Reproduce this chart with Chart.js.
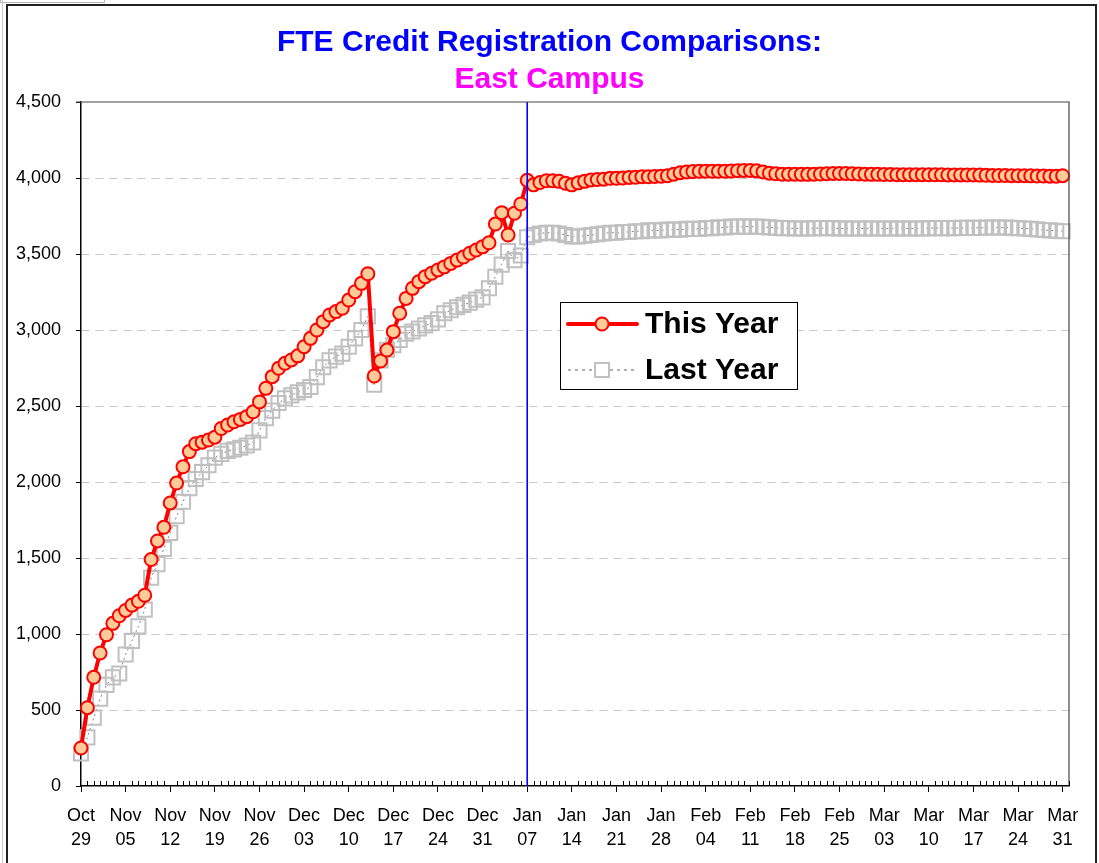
<!DOCTYPE html>
<html lang="en">
<head>
    <meta charset="utf-8" />
    <title>FTE Credit Registration Comparisons</title>
    <script src="https://cdn.jsdelivr.net/npm/chart.js@4.4.0/dist/chart.umd.min.js"></script>
    <style>
        body {
            margin: 0;
            background: #fff;
        }

        #wrap {
            position: relative;
            width: 1099px;
            height: 863px;
            overflow: hidden;
        }

        #frame {
            position: absolute;
            left: 6px;
            top: 4px;
            width: 1087px;
            height: 900px;
            border: 2px solid #222;
            pointer-events: none;
        }

        #cell {
            position: absolute;
            left: 0;
            top: 0;
            width: 103px;
            height: 2px;
            border: 1px solid #bbb;
            border-top: none;
        }

        #gutter {
            position: absolute;
            left: 2px;
            top: 0;
            width: 1px;
            height: 863px;
            background: #ccc;
        }
    </style>
</head>
<body>
    <div id="wrap">
        <canvas id="chart" width="1099" height="863"></canvas>
        <div id="gutter"></div>
        <div id="cell"></div>
        <div id="frame"></div>
    </div>

    <script>
        // one label per week, Oct 29 .. Mar 31
        var weekLabels = [
            ["Oct", "29"], ["Nov", "05"], ["Nov", "12"], ["Nov", "19"], ["Nov", "26"],
            ["Dec", "03"], ["Dec", "10"], ["Dec", "17"], ["Dec", "24"], ["Dec", "31"],
            ["Jan", "07"], ["Jan", "14"], ["Jan", "21"], ["Jan", "28"], ["Feb", "04"],
            ["Feb", "11"], ["Feb", "18"], ["Feb", "25"], ["Mar", "03"], ["Mar", "10"],
            ["Mar", "17"], ["Mar", "24"], ["Mar", "31"]
        ];

        // daily FTE values, day 0 = Oct 29
        var thisYear = [
            250, 515, 715, 875, 995, 1070, 1120, 1155, 1190, 1215,
            1255, 1490, 1612, 1702, 1862, 1993, 2100, 2200, 2252, 2262,
            2276, 2295, 2352, 2375, 2396, 2412, 2430, 2462, 2527, 2616,
            2693, 2748, 2781, 2803, 2830, 2890, 2945, 3000, 3055, 3099,
            3121, 3143, 3197, 3252, 3307, 3370, 2697, 2796, 2868, 2989,
            3110, 3208, 3274, 3318, 3351, 3373, 3395, 3415, 3438, 3460,
            3480, 3505, 3526, 3547, 3574, 3697, 3772, 3625, 3768, 3829,
            3985, 3955, 3970, 3982, 3982, 3978, 3965, 3955, 3968, 3978,
            3987, 3990, 3992, 3998, 3998, 4000, 4004, 4005, 4009, 4008,
            4010, 4012, 4015, 4025, 4035, 4040, 4042, 4044, 4045, 4045,
            4044, 4045, 4046, 4048, 4050, 4050, 4047, 4040, 4032, 4028,
            4025, 4025, 4025, 4024, 4024, 4025, 4026, 4028, 4030, 4030,
            4030, 4028, 4026, 4025, 4024, 4024, 4023, 4023, 4022, 4022,
            4022, 4022, 4022, 4021, 4021, 4021, 4020, 4020, 4020, 4020,
            4020, 4019, 4018, 4017, 4016, 4016, 4015, 4015, 4015, 4014,
            4013, 4013, 4012, 4012, 4015
        ];

        var lastYear = [
            215, 320, 450, 575, 665, 715, 740, 865, 955, 1050,
            1160, 1370, 1460, 1560, 1665, 1775, 1870, 1960, 2020, 2065,
            2110, 2160, 2185, 2205, 2215, 2225, 2240, 2260, 2340, 2420,
            2470, 2520, 2550, 2570, 2590, 2605, 2625, 2690, 2755, 2800,
            2825, 2845, 2890, 2945, 3000, 3090, 2640, 2800, 2870, 2900,
            2935, 2975, 2990, 3010, 3030, 3045, 3070, 3110, 3130, 3150,
            3165, 3180, 3200, 3215, 3275, 3350, 3430, 3520, 3460, 3490,
            3610, 3625, 3635, 3640, 3640, 3635, 3625, 3615, 3615, 3620,
            3625, 3630, 3635, 3640, 3640, 3645, 3645, 3650, 3650, 3655,
            3655, 3655, 3660, 3660, 3660, 3665, 3665, 3665, 3670, 3670,
            3675, 3675, 3680, 3680, 3680, 3680, 3680, 3678, 3675, 3672,
            3670, 3670, 3668, 3668, 3668, 3670, 3670, 3670, 3670, 3668,
            3668, 3668, 3668, 3668, 3668, 3668, 3668, 3668, 3668, 3668,
            3668, 3668, 3668, 3670, 3670, 3670, 3670, 3670, 3672, 3672,
            3672, 3672, 3674, 3674, 3674, 3674, 3672, 3670, 3668, 3665,
            3662, 3658, 3655, 3652, 3650
        ];

        var seriesNames = ["This Year", "Last Year"];
        var markerDay = 70; // Jan 07

        var days = [];
        for (var i = 0; i <= 155; i++) days.push(i);

        var fontFamily = "'Liberation Sans', Arial, sans-serif";

        var extras = {
            id: "extras",
            afterDatasetsDraw: function (chart) {
                var ctx = chart.ctx, a = chart.chartArea, xs = chart.scales.x;
                // blue divider at Jan 07
                var bx = xs.getPixelForValue(markerDay);
                ctx.save();
                ctx.strokeStyle = "#0000FF";
                ctx.lineWidth = 1.6;
                ctx.beginPath();
                ctx.moveTo(bx, a.top);
                ctx.lineTo(bx, a.bottom);
                ctx.stroke();
                ctx.restore();
            },
            afterDraw: function (chart) {
                var ctx = chart.ctx, a = chart.chartArea, xs = chart.scales.x;
                ctx.save();
                // top and right edge of the plot
                ctx.strokeStyle = "#444";
                ctx.lineWidth = 1.2;
                ctx.beginPath();
                ctx.moveTo(a.left - 5, a.top);
                ctx.lineTo(a.right, a.top);
                ctx.lineTo(a.right, a.bottom);
                ctx.stroke();

                // daily minor ticks inside the plot
                ctx.strokeStyle = "#000";
                ctx.lineWidth = 1;
                ctx.beginPath();
                for (var d = 0; d < days.length; d++) {
                    if (d % 7 === 0) continue;
                    var tx = Math.round(xs.getPixelForValue(d)) + 0.5;
                    ctx.moveTo(tx, a.bottom);
                    ctx.lineTo(tx, a.bottom - 5);
                }
                ctx.stroke();

                // legend box
                var lx = 560, ly = 302, lw = 237, lh = 87;
                ctx.fillStyle = "#fff";
                ctx.fillRect(lx, ly, lw, lh);
                ctx.strokeStyle = "#000";
                ctx.lineWidth = 1;
                ctx.strokeRect(lx + 0.5, ly + 0.5, lw, lh);

                var row1 = ly + 22, row2 = ly + 68;
                ctx.strokeStyle = "#FF0000";
                ctx.lineWidth = 4;
                ctx.lineCap = "round";
                ctx.beginPath();
                ctx.moveTo(lx + 8, row1);
                ctx.lineTo(lx + 77, row1);
                ctx.stroke();
                ctx.beginPath();
                ctx.arc(lx + 42, row1, 6.5, 0, Math.PI * 2);
                ctx.fillStyle = "#FFCC99";
                ctx.fill();
                ctx.lineWidth = 2;
                ctx.stroke();

                ctx.lineCap = "butt";
                ctx.strokeStyle = "#666";
                ctx.lineWidth = 1.2;
                ctx.setLineDash([3, 4]);
                ctx.beginPath();
                ctx.moveTo(lx + 8, row2);
                ctx.lineTo(lx + 77, row2);
                ctx.stroke();
                ctx.setLineDash([]);
                ctx.fillStyle = "#fff";
                ctx.fillRect(lx + 35, row2 - 7, 14, 14);
                ctx.strokeStyle = "#C0C0C0";
                ctx.lineWidth = 2;
                ctx.strokeRect(lx + 35, row2 - 7, 14, 14);

                ctx.fillStyle = "#000";
                ctx.font = "bold 30px " + fontFamily;
                ctx.textBaseline = "middle";
                ctx.fillText(seriesNames[0], lx + 85, row1 + 1);
                ctx.fillText(seriesNames[1], lx + 85, row2 + 1);
                ctx.restore();
            }
        };

        new Chart("chart", {
            type: "line",
            data: {
                labels: days,
                datasets: [{
                    label: seriesNames[0],
                    data: thisYear,
                    borderColor: "#FF0000",
                    borderWidth: 4,
                    pointRadius: 6.5,
                    pointBorderWidth: 2,
                    pointBorderColor: "#FF0000",
                    pointBackgroundColor: "#FFCC99",
                    tension: 0
                }, {
                    label: seriesNames[1],
                    data: lastYear,
                    borderColor: "#808080",
                    borderWidth: 1,
                    borderDash: [2, 3],
                    pointStyle: "rect",
                    pointRadius: 10,
                    pointBorderWidth: 2,
                    pointBorderColor: "#C0C0C0",
                    pointBackgroundColor: "rgba(0,0,0,0)",
                    tension: 0
                }]
            },
            options: {
                responsive: false,
                animation: false,
                layout: { padding: 0 },
                plugins: {
                    legend: { display: false },
                    tooltip: { enabled: false },
                    title: {
                        display: true,
                        text: "FTE Credit Registration Comparisons:",
                        color: "#0000FF",
                        font: { size: 30, weight: "bold", family: fontFamily, lineHeight: 1.2 },
                        padding: { top: 25, bottom: 1 }
                    },
                    subtitle: {
                        display: true,
                        text: "East Campus",
                        color: "#FF00FF",
                        font: { size: 30, weight: "bold", family: fontFamily, lineHeight: 1.2 },
                        padding: { top: 0, bottom: 4 }
                    }
                },
                scales: {
                    x: {
                        type: "category",
                        offset: false,
                        grid: {
                            drawOnChartArea: false,
                            drawTicks: true,
                            tickLength: 6,
                            tickWidth: 1,
                            tickColor: function (c) { return c.index % 7 === 0 ? "#000" : "rgba(0,0,0,0)"; }
                        },
                        border: { color: "#000", width: 1.5 },
                        ticks: {
                            autoSkip: false,
                            maxRotation: 0,
                            padding: 13,
                            color: "#000",
                            font: { size: 18, family: fontFamily, lineHeight: 1.28 },
                            callback: function (v, i) { return i % 7 === 0 ? weekLabels[i / 7] : ""; }
                        },
                        afterFit: function (s) { s.height = 77; }
                    },
                    y: {
                        min: 0,
                        max: 4500,
                        ticks: {
                            stepSize: 500,
                            padding: 15,
                            color: "#000",
                            font: { size: 18, family: fontFamily },
                            callback: function (v) { return v.toLocaleString("en-US"); }
                        },
                        grid: {
                            color: function (c) {
                                var v = c.tick ? c.tick.value : -1;
                                return (v === 0 || v === 4500) ? "rgba(0,0,0,0)" : "#C8C8C8";
                            },
                            lineWidth: 1,
                            tickColor: "#000",
                            tickLength: 5
                        },
                        border: { color: "#000", width: 1.5, dash: [8, 6] },
                        afterFit: function (s) { s.width = 81; }
                    },
                    // empty right-hand strip so the titles stay centred on the page
                    spacer: {
                        position: "right",
                        min: 0,
                        max: 4500,
                        grid: { display: false, drawTicks: false },
                        border: { display: false },
                        ticks: { display: false },
                        afterFit: function (s) { s.width = 30; }
                    }
                }
            },
            plugins: [extras]
        });
    </script>
</body>
</html>
